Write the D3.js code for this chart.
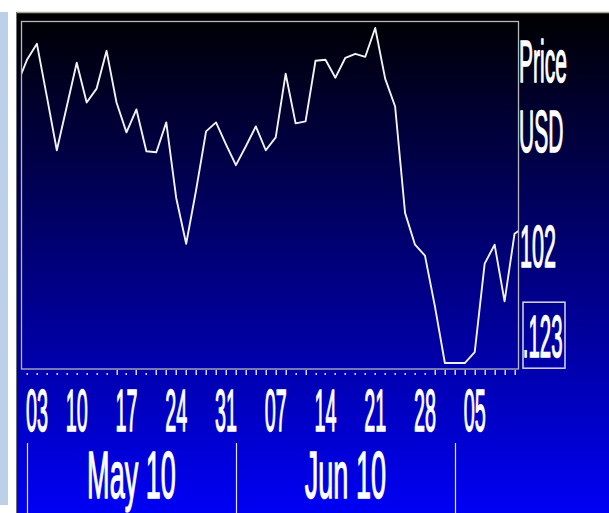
<!DOCTYPE html>
<html>
<head>
<meta charset="utf-8">
<script src="https://cdn.jsdelivr.net/npm/d3@7"></script>
<style>
    html, body { margin: 0; padding: 0; background: #fff; overflow: hidden; }
    svg { display: block; }
    text { font-family: "Liberation Sans", Arial, sans-serif; fill: #fff; }
</style>
</head>
<body>
<div id="chart"></div>
<script>
// trading days, the first and the last one only reach into the plot edge
let days = [
    "2010-04-30",
    "2010-05-03", "2010-05-04", "2010-05-05", "2010-05-06", "2010-05-07",
    "2010-05-10", "2010-05-11", "2010-05-12", "2010-05-13", "2010-05-14",
    "2010-05-17", "2010-05-18", "2010-05-19", "2010-05-20", "2010-05-21",
    "2010-05-24", "2010-05-25", "2010-05-26", "2010-05-27", "2010-05-28",
    "2010-05-31",
    "2010-06-01", "2010-06-02", "2010-06-03", "2010-06-04",
    "2010-06-07", "2010-06-08", "2010-06-09", "2010-06-10", "2010-06-11",
    "2010-06-14", "2010-06-15", "2010-06-16", "2010-06-17", "2010-06-18",
    "2010-06-21", "2010-06-22", "2010-06-23", "2010-06-24", "2010-06-25",
    "2010-06-28", "2010-06-29", "2010-06-30",
    "2010-07-01", "2010-07-02",
    "2010-07-05", "2010-07-06", "2010-07-07", "2010-07-08", "2010-07-09",
    "2010-07-12"
];

let prices = [
    118.6,
    121.1, 122.7, 117.4, 112.0, 116.4,
    120.8, 116.8, 118.2, 122.0, 116.8,
    113.8, 116.1, 111.9, 111.8, 114.8,
    107.2, 102.6, 108.0, 113.9, 114.8,
    112.6,
    110.5, 112.4, 114.4, 112.0,
    113.3, 119.7, 114.7, 114.9, 121.0,
    121.1, 119.3, 121.3, 121.7, 121.4,
    124.3, 119.2, 116.4, 105.7, 102.5,
    101.4, 96.3, 90.6,
    90.6, 90.6,
    91.7, 100.6, 102.5, 96.8, 103.6,
    104.3
];

// one mark per visible trading day: 1 = tick, 0 = dot
let tickTall = [
    0, 0, 0, 0, 0, 0, 0, 0, 0, 1,
    0, 1, 0, 1, 1, 1, 1, 1, 1, 1,
    1, 1, 1, 1, 1, 1, 1, 0, 1, 0,
    0, 0, 0, 0, 0, 0, 0, 0, 0, 0,
    0, 1, 1, 1, 1, 1, 1, 1, 1, 1
];

let priceTicks = [102];
let priceTickLabels = ["102"];
let axisTitle = ["Price", "USD"];
let markerValue = 93.4;
let markerLabel = ".123";

class priceChart {

    constructor(parentElement, days, prices) {
        this.parentElement = parentElement;
        this.days = days;
        this.prices = prices;

        this.initVis();
    }

    initVis() {
        let vis = this;
        vis.width = 609;
        vis.height = 513;
        vis.plot = {left: 21.5, right: 518.5, top: 21.5, bottom: 369};

        vis.svg = d3.select("#" + vis.parentElement)
            .append("svg")
            .attr("width", vis.width)
            .attr("height", vis.height);

        let defs = vis.svg.append("defs");
        let grad = defs.append("linearGradient")
            .attr("id", "bg")
            .attr("gradientUnits", "userSpaceOnUse")
            .attr("x1", 0).attr("y1", 12)
            .attr("x2", 0).attr("y2", vis.height);
        grad.append("stop").attr("offset", 0).attr("stop-color", "#000000");
        grad.append("stop").attr("offset", 1).attr("stop-color", "#0000f5");

        defs.append("clipPath").attr("id", "plotClip")
            .append("rect")
            .attr("x", vis.plot.left)
            .attr("y", vis.plot.top)
            .attr("width", vis.plot.right - vis.plot.left)
            .attr("height", vis.plot.bottom - vis.plot.top);

        // light blue strip on the far left
        vis.svg.append("rect")
            .attr("x", 0).attr("y", 12)
            .attr("width", 8).attr("height", 493)
            .attr("fill", "#bcd0ea");

        // panel
        vis.svg.append("rect")
            .attr("x", 17).attr("y", 12)
            .attr("width", vis.width - 17).attr("height", vis.height - 12)
            .attr("fill", "url(#bg)");
        vis.svg.append("line")
            .attr("x1", 17).attr("x2", vis.width)
            .attr("y1", 12.5).attr("y2", 12.5)
            .attr("stroke", "#aaa696").attr("stroke-width", 1.5);
        vis.svg.append("line")
            .attr("x1", 16.5).attr("x2", 16.5)
            .attr("y1", 12).attr("y2", vis.height)
            .attr("stroke", "#6c6c6c");

        vis.x = d3.scaleLinear()
            .domain([0.4, 50.35])
            .range([21, 518]);

        vis.y = d3.scaleLinear()
            .domain([90, 125])
            .range([369, 21]);

        vis.wrangleData();
    }

    wrangleData() {
        let vis = this;
        let parse = d3.timeParse("%Y-%m-%d");

        vis.data = vis.days.map((d, i) => ({date: parse(d), index: i, price: vis.prices[i]}));

        // only the days that get a mark under the plot
        vis.visible = vis.data.filter(d => d.index >= 1 && d.index <= tickTall.length);

        // mondays get a day label
        vis.mondays = vis.visible.filter(d => d.date.getDay() === 1);

        // first trading day of each month starts a new section
        vis.monthStarts = vis.visible.filter((d, i, arr) =>
            i === 0 || arr[i - 1].date.getMonth() !== d.date.getMonth());

        vis.updateVis();
    }

    updateVis() {
        let vis = this;
        let p = vis.plot;

        // price line
        let line = d3.line()
            .x(d => vis.x(d.index))
            .y(d => vis.y(d.price));

        vis.svg.append("path")
            .datum(vis.data)
            .attr("clip-path", "url(#plotClip)")
            .attr("fill", "none")
            .attr("stroke", "#f2f2f2")
            .attr("stroke-width", 1.9)
            .attr("stroke-linejoin", "round")
            .attr("d", line);

        // plot frame
        vis.svg.append("rect")
            .attr("x", p.left).attr("y", p.top)
            .attr("width", p.right - p.left)
            .attr("height", p.bottom - p.top)
            .attr("fill", "none")
            .attr("stroke", "#b8b8b8")
            .attr("stroke-width", 1.3);

        // day marks under the frame
        vis.svg.append("g")
            .selectAll("rect")
            .data(vis.visible)
            .join("rect")
            .attr("x", d => Math.round(vis.x(d.index)) - 0.5)
            .attr("y", d => tickTall[d.index - 1] ? 370 : 373)
            .attr("width", 1.5)
            .attr("height", d => tickTall[d.index - 1] ? 5 : 2)
            .attr("fill", "#d6d6e6");

        let condensed = (x, y, str, size, sx, anchor) =>
            vis.svg.append("text")
                .attr("transform", `translate(${x},${y}) scale(${sx},1)`)
                .attr("text-anchor", anchor)
                .attr("font-size", size)
                .attr("stroke", "#fff")
                .attr("stroke-width", 1.1)
                .attr("vector-effect", "non-scaling-stroke")
                .text(str);

        // day labels, kept inside the first month section
        let minLeft = vis.x(vis.visible[0].index) - 1;
        vis.mondays.forEach(d => {
            let cx = vis.x(d.index);
            let t = condensed(cx, 431, d3.timeFormat("%d")(d.date), 60, 0.33, "middle");
            let half = t.node().getBBox().width * 0.33 / 2;
            if (cx - half < minLeft) {
                t.attr("transform", `translate(${minLeft + half},431) scale(0.33,1)`);
            }
        });

        // month sections
        vis.monthStarts.forEach((d, i) => {
            let x0 = Math.round(vis.x(d.index)) + 0.5;
            vis.svg.append("line")
                .attr("x1", x0).attr("x2", x0)
                .attr("y1", 443).attr("y2", vis.height)
                .attr("stroke", "#e4e4f0")
                .attr("stroke-width", 1.2);
            let next = vis.monthStarts[i + 1];
            if (next) {
                let cx = (vis.x(d.index) + vis.x(next.index)) / 2;
                condensed(cx, 498, d3.timeFormat("%b %y")(d.date), 66, 0.41, "middle");
            }
        });

        // right axis
        let titleY = [82, 152];
        axisTitle.forEach((s, i) => condensed(p.right + 0.5, titleY[i], s, 60, 0.35, "start"));

        priceTicks.forEach((v, i) =>
            condensed(p.right + 1.5, vis.y(v) + 17, priceTickLabels[i], 60, 0.36, "start"));

        // boxed marker label
        let my = vis.y(markerValue);
        vis.svg.append("rect")
            .attr("x", 523).attr("y", my - 33)
            .attr("width", 42).attr("height", 66)
            .attr("fill", "none")
            .attr("stroke", "#d8d8e0")
            .attr("stroke-width", 1.5);
        condensed(562.5, my + 22, markerLabel, 60, 0.34, "end");
    }
}

new priceChart("chart", days, prices);
</script>
</body>
</html>
